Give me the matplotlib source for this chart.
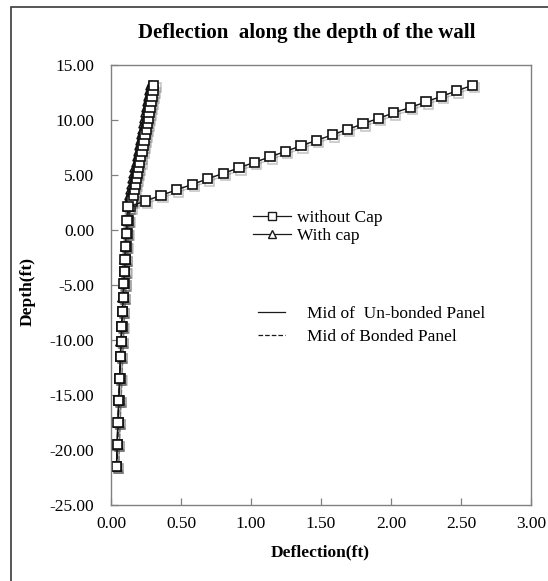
import matplotlib
matplotlib.use("Agg")
import matplotlib.pyplot as plt
import matplotlib.patheffects as pe
from matplotlib.lines import Line2D
from matplotlib.patches import Rectangle

plt.rcParams["font.family"] = ["Liberation Serif", "DejaVu Serif"]

# Depth stations along the wall (ft)
depth = [-21.5, -19.5, -17.5, -15.5, -13.5, -11.5, -10.1, -8.8, -7.4, -6.1,
         -4.9, -3.8, -2.7, -1.5, -0.3, 0.9, 2.1,
         2.64, 3.15, 3.65, 4.15, 4.65, 5.15, 5.65, 6.15, 6.65, 7.15, 7.65,
         8.15, 8.65, 9.15, 9.65, 10.15, 10.65, 11.15, 11.65, 12.15, 12.65, 13.15]

# Deflection (ft) - without cap, mid of un-bonded panel
nocap_unbonded = [0.040, 0.044, 0.050, 0.056, 0.063, 0.068, 0.073, 0.077, 0.082, 0.087,
                  0.092, 0.097, 0.100, 0.104, 0.108, 0.114, 0.122,
                  0.248, 0.357, 0.469, 0.581, 0.690, 0.802, 0.914, 1.024, 1.136, 1.248,
                  1.357, 1.469, 1.581, 1.690, 1.800, 1.910, 2.020, 2.140, 2.250, 2.360,
                  2.470, 2.580]

# Deflection (ft) - without cap, mid of bonded panel
nocap_bonded = [0.041, 0.046, 0.051, 0.057, 0.064, 0.070, 0.075, 0.079, 0.084, 0.089,
                0.094, 0.099, 0.104, 0.109, 0.115, 0.125, 0.140,
                0.150, 0.158, 0.166, 0.174, 0.182, 0.190, 0.198, 0.206, 0.213, 0.221,
                0.228, 0.236, 0.243, 0.251, 0.258, 0.265, 0.272, 0.279, 0.286, 0.293,
                0.300, 0.306]

# Deflection (ft) - with cap, mid of un-bonded panel
cap_unbonded = [0.039, 0.043, 0.049, 0.055, 0.061, 0.066, 0.071, 0.075, 0.080, 0.085,
                0.090, 0.095, 0.099, 0.103, 0.108, 0.117, 0.130,
                0.138, 0.146, 0.154, 0.162, 0.170, 0.178, 0.186, 0.194, 0.201, 0.209,
                0.216, 0.224, 0.231, 0.239, 0.246, 0.253, 0.260, 0.267, 0.274, 0.281,
                0.288, 0.294]

# Deflection (ft) - with cap, mid of bonded panel
cap_bonded = [0.040, 0.045, 0.050, 0.056, 0.062, 0.067, 0.072, 0.076, 0.081, 0.086,
              0.091, 0.096, 0.100, 0.104, 0.108, 0.114, 0.120,
              0.124, 0.132, 0.140, 0.148, 0.156, 0.164, 0.172, 0.180, 0.187, 0.195,
              0.202, 0.210, 0.217, 0.225, 0.232, 0.239, 0.246, 0.253, 0.260, 0.267,
              0.274, 0.280]

x_ticks = [0.0, 0.5, 1.0, 1.5, 2.0, 2.5, 3.0]
y_ticks = [-25, -20, -15, -10, -5, 0, 5, 10, 15]

W, H = 548, 581
fig = plt.figure(figsize=(W / 100, H / 100), dpi=100)
fig.patch.set_facecolor("white")

# outer chart-area frame
fig.add_artist(Rectangle((11 / W, -0.2), 1.2, 1 - 7 / H + 0.2, transform=fig.transFigure,
                         fill=False, edgecolor="#3a3a3a", linewidth=1.2))

ax = fig.add_axes([111 / W, 1 - 505 / H, 420 / W, 440 / H])

shadow = [pe.SimpleLineShadow(offset=(1.5, -1.5), shadow_color="#444444", alpha=0.3),
          pe.Normal()]
common = dict(color="#111111", linewidth=1.0, markersize=6.6, markeredgewidth=1.2,
              markerfacecolor="white", markeredgecolor="#111111", path_effects=shadow)

ax.plot(cap_bonded, depth, linestyle="--", marker="^", **common)
ax.plot(cap_unbonded, depth, linestyle="-", marker="^", **common)
ax.plot(nocap_bonded, depth, linestyle="--", marker="s", **common)
ax.plot(nocap_unbonded, depth, linestyle="-", marker="s", **common)

ax.set_xlim(0, 3)
ax.set_ylim(-25, 15)
ax.set_xticks(x_ticks)
ax.set_yticks(y_ticks)
ax.xaxis.set_major_formatter(plt.FormatStrFormatter("%.2f"))
ax.yaxis.set_major_formatter(plt.FormatStrFormatter("%.2f"))
ax.tick_params(direction="in", length=5, width=0.9, color="#808080",
               labelsize=12.5, labelcolor="black")
ax.tick_params(axis="y", pad=12)
ax.tick_params(axis="x", pad=8)
for s in ax.spines.values():
    s.set_color("#808080")
    s.set_linewidth(1.0)

fig.text(307 / W, 1 - 33 / H, "Deflection  along the depth of the wall",
         ha="center", va="center", fontsize=15, fontweight="bold")
fig.text(320 / W, 1 - 552 / H, "Deflection(ft)", ha="center", va="center",
         fontsize=12.5, fontweight="bold")
fig.text(28 / W, 1 - 291 / H, "Depth(ft)", ha="center", va="center", rotation=90,
         fontsize=12.5, fontweight="bold")

# legend: load case
h1 = [Line2D([], [], color="#1a1a1a", lw=0.9, marker="s", markersize=6,
             markerfacecolor="white", markeredgecolor="#1a1a1a"),
      Line2D([], [], color="#1a1a1a", lw=0.9, marker="^", markersize=6,
             markerfacecolor="white", markeredgecolor="#1a1a1a")]
leg1 = ax.legend(h1, ["without Cap", "With cap"], loc="upper left",
                 bbox_to_anchor=(253 / W, 1 - 210 / H), bbox_transform=fig.transFigure,
                 frameon=False, fontsize=12.5, handlelength=2.2, handletextpad=0.35,
                 labelspacing=0.12, borderpad=0, borderaxespad=0)
ax.add_artist(leg1)

# legend: panel location
h2 = [Line2D([], [], color="#1a1a1a", lw=0.9, linestyle="-"),
      Line2D([], [], color="#1a1a1a", lw=0.9, linestyle="--")]
ax.legend(h2, ["Mid of  Un-bonded Panel", "Mid of Bonded Panel"], loc="upper left",
          bbox_to_anchor=(258 / W, 1 - 306 / H), bbox_transform=fig.transFigure,
          frameon=False, fontsize=12.5, handlelength=1.55, handletextpad=1.25,
          labelspacing=0.4, borderpad=0, borderaxespad=0)

fig.savefig("out.png", dpi=100)
